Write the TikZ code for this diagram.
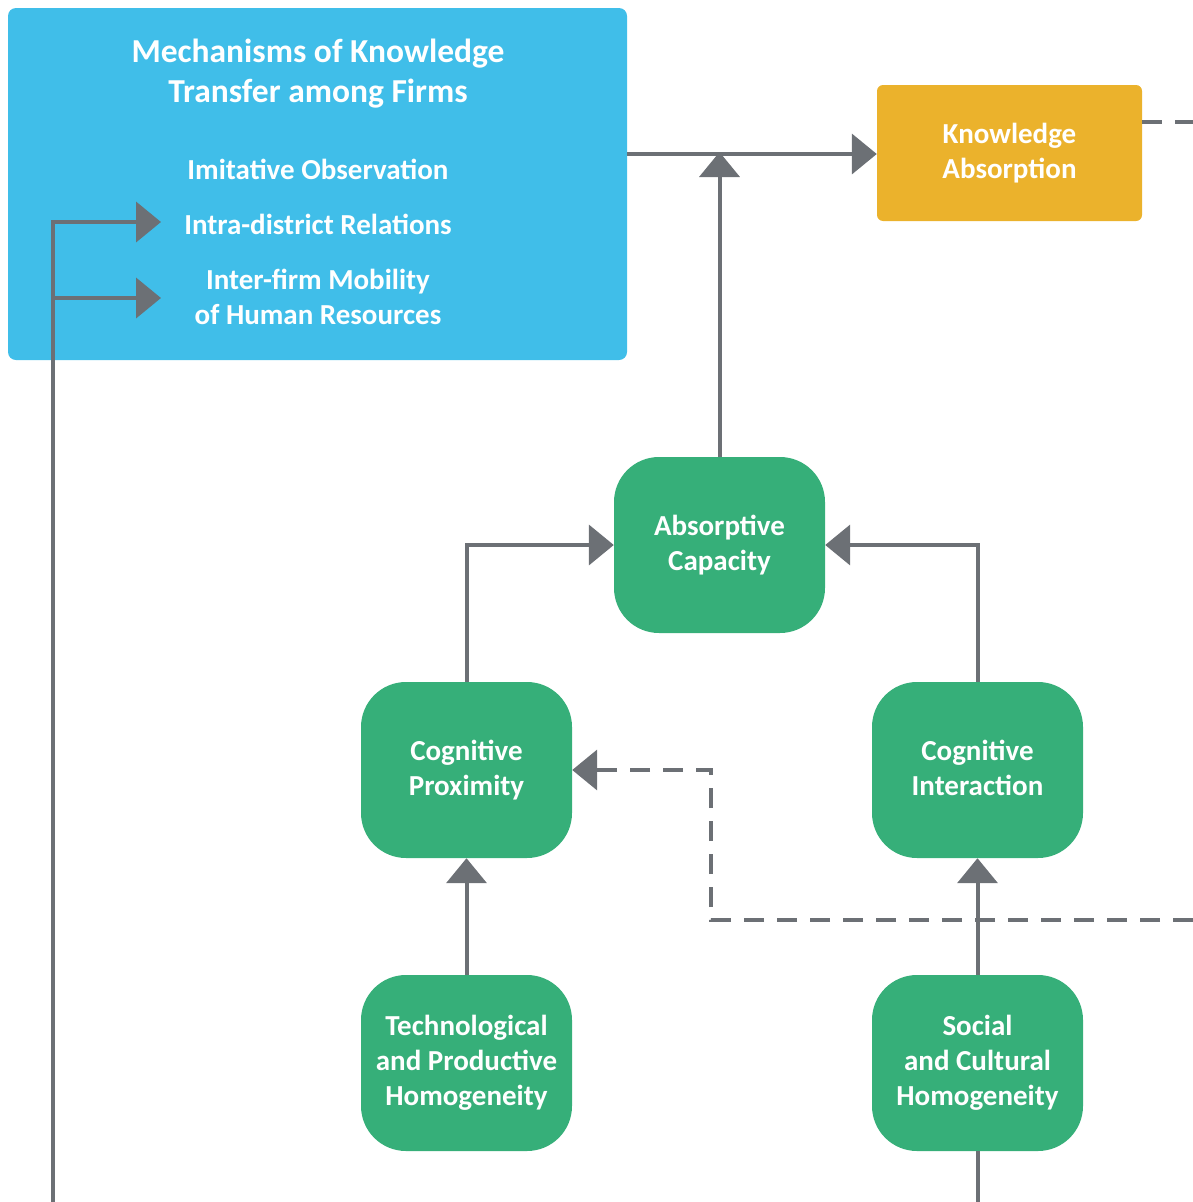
\documentclass[tikz,border=0pt]{standalone}
\usepackage{fontspec}
\setmainfont{Carlito}
\usetikzlibrary{arrows.meta,positioning}

\definecolor{mechblue}{HTML}{40BEE9}
\definecolor{absorange}{HTML}{EBB22C}
\definecolor{factgreen}{HTML}{36AF79}
\definecolor{linkgray}{HTML}{6C7075}

\begin{document}
\begin{tikzpicture}[x=1pt,y=-1pt,
	txt/.style={text=white,font=\bfseries\fontsize{29}{35}\selectfont,align=center,inner sep=0pt},
	factor/.style={txt,fill=factgreen,rounded corners=45pt,minimum width=211pt,minimum height=176pt},
	link/.style={draw=linkgray,line width=4pt,-{Triangle[length=25pt,width=40pt]}},
	dlink/.style={link,dash pattern=on 20pt off 13pt}]

\useasboundingbox (0,0) rectangle (1193,1202);

% mechanisms box
\node[fill=mechblue,rounded corners=8pt,minimum width=619pt,minimum height=352pt,inner sep=0pt] (mech) at (317.5,184) {};
\node[txt,font=\bfseries\fontsize{33.5}{40}\selectfont] (mech_title) at (318,74) {Mechanisms of Knowledge\\Transfer among Firms};
\node[txt] (imit_obs) at (318,169) {Imitative Observation};
\node[txt] (intra_rel) at (318,224) {Intra-district Relations};
\node[txt] (mobility) at (318,297) {Inter-firm Mobility\\of Human Resources};

% knowledge absorption
\node[txt,fill=absorange,rounded corners=6pt,minimum width=265pt,minimum height=136pt] (know_abs) at (1009.5,153) {Knowledge\\Absorption};

% factors
\node[factor] (abs_cap) at (719.5,545) {Absorptive\\Capacity\vphantom{g}};
\node[factor] (cog_prox) at (466.5,770) {Cognitive\\Proximity};
\node[factor] (cog_int) at (977.5,770) {Cognitive\\Interaction\vphantom{g}};
\node[factor] (tech_hom) at (466.5,1063) {Technological\\and Productive\\Homogeneity};
\node[factor] (soc_hom) at (977.5,1063) {Social\\and Cultural\\Homogeneity};

% free ends
\coordinate (left_end) at (53,1202);
\coordinate (intra_tip) at (161,222);
\coordinate (mob_tip) at (161,298);
\coordinate (soc_end) at (977.5,1202);
\coordinate (dash_end) at (1193,920);
\coordinate (dash_turn) at (711,920);
\coordinate (abs_end) at (1193,122);
\coordinate (join) at (720,154);

\draw[link] (mech.east |- join) -- (know_abs.west |- join);
\draw[link] (abs_cap.north) -- ([yshift=2pt]abs_cap.north |- join);
\draw[link] (cog_prox.north) |- (abs_cap.west);
\draw[link] (cog_int.north) |- (abs_cap.east);
\draw[link] (tech_hom.north) -- (cog_prox.south);
\draw[link] (soc_hom.north) -- (cog_int.south);
\draw[draw=linkgray,line width=4pt] (soc_hom.south) -- (soc_end);

\draw[link] (left_end) |- (intra_tip);
\draw[link] (left_end |- mob_tip) -- (mob_tip);

\draw[dlink] (dash_end) -- (dash_turn) |- (cog_prox.east);
\draw[draw=linkgray,line width=4pt,dash pattern=on 20pt off 13pt] (know_abs.east |- abs_end) -- (abs_end);

\end{tikzpicture}
\end{document}
